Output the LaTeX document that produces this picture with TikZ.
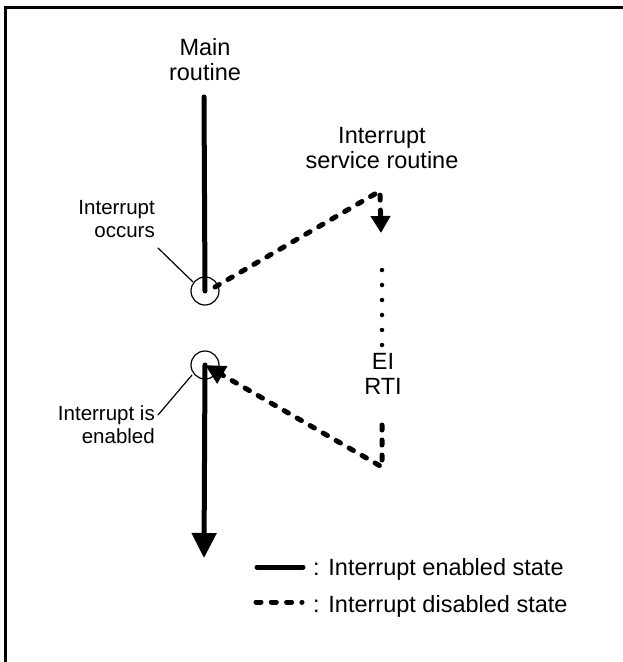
\documentclass[tikz,border=0pt]{standalone}
\usepackage{fontspec}
\setmainfont{Liberation Sans}
\usetikzlibrary{arrows.meta}
\tikzset{
  enabled/.style={line width=5pt},
  disabled/.style={line width=5pt, dash pattern=on 5pt off 10pt},
  biglbl/.style={inner sep=0pt, font=\fontsize{23.5}{25.5}\selectfont, align=center},
  smalllbl/.style={inner sep=0pt, font=\fontsize{20.5}{23}\selectfont, align=right},
  leader/.style={line width=1.2pt},
}
\begin{document}
\begin{tikzpicture}[x=1pt, y=-1pt, line cap=round, line join=round]
	\def\r{14}
	\useasboundingbox (0,0) rectangle (623,662);
	\draw[line width=3pt, line cap=butt, line join=miter] (5,662) -- (5,7) -- (623,7);
	% labels
	\node[biglbl, anchor=north] (main) at (205,38) {Main\\routine};
	\node[biglbl, anchor=north] (isr) at (382,127) {Interrupt\\service routine};
	\node[smalllbl, anchor=north east] (occlbl) at (155,200) {Interrupt\\occurs};
	\node[smalllbl, anchor=north east] (enlbl) at (155,405) {Interrupt is\\enabled};
	\node[biglbl, anchor=north] (eirti) at (383,353) {EI\\RTI};
	% points on the routines
	\coordinate (start) at (204,97);
	\coordinate (occ) at (205,291);
	\coordinate (en) at (205,365);
	\coordinate (stop) at (204,558);
	\coordinate (isrfrom) at (215,287);
	\coordinate (isrtop) at (380,191);
	\coordinate (isrtip) at (381,233);
	\coordinate (dtop) at (382,270);
	\coordinate (dbot) at (382,345);
	\coordinate (rtitop) at (382,425);
	\coordinate (rtibot) at (382,467);
	% leaders
	\coordinate (occA) at (158,248);
	\coordinate (occB) at (193,282);
	\coordinate (enA) at (158,415);
	\coordinate (enB) at (192,375);
	\foreach \p in {occ,en}{\draw[leader] (\p) circle[radius=\r];}
	\draw[leader] (occA) -- (occB);
	\draw[leader] (enA) -- (enB);
	% main routine
	\draw[enabled] (start) -- (occ);
	\draw[enabled, -{Triangle[length=25pt,width=24pt]}] (en) -- (stop);
	% interrupt service routine
	\draw[disabled, -{Triangle[length=17pt,width=19pt]}] (isrfrom) -- (isrtop) -- (isrtip);
	\draw[line width=4.5pt, dash pattern=on 0pt off 15pt] (dtop) -- (dbot);
	\draw[disabled, -{Triangle[length=20pt,width=19pt]}] (rtitop) -- (rtibot) -- (en);
	% legend
	\coordinate (solA) at (257,567);
	\coordinate (solB) at (303,567);
	\coordinate (dasA) at (256,602);
	\coordinate (dasB) at (302,602);
	\draw[enabled] (solA) -- (solB);
	\draw[disabled, dash pattern=on 5pt off 10.3pt] (dasA) -- (dasB);
	\node[biglbl, anchor=base west] (enkey) at (313,575) {: Interrupt enabled state};
	\node[biglbl, anchor=base west] (diskey) at (313,612) {: Interrupt disabled state};
\end{tikzpicture}
\end{document}
